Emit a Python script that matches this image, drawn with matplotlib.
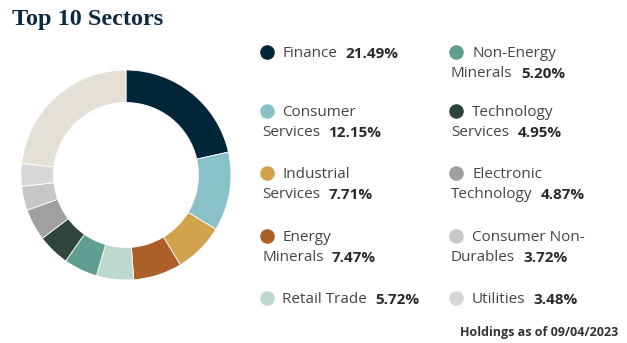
import matplotlib.pyplot as plt

sectors = ["Finance", "Consumer\nServices", "Industrial\nServices", "Energy\nMinerals",
           "Retail Trade", "Non-Energy\nMinerals", "Technology\nServices",
           "Electronic\nTechnology", "Consumer Non-\nDurables", "Utilities"]
weights = [21.49, 12.15, 7.71, 7.47, 5.72, 5.20, 4.95, 4.87, 3.72, 3.48]
colors = ["#022639", "#89c2c6", "#d0a24c", "#ad5f29", "#bdd8cc",
          "#609e92", "#2f443b", "#a0a0a0", "#c7c7c7", "#d7d7d7"]
other_color = "#e5e0d6"
as_of = "09/04/2023"

W, H = 627, 343
fig = plt.figure(figsize=(W / 100, H / 100), dpi=100)

# donut
cx, cy, r = 126, 175, 105
ax = fig.add_axes([(cx - r) / W, (H - cy - r) / H, 2 * r / W, 2 * r / H])
other = 100 - sum(weights)
ax.pie(weights + [other], colors=colors + [other_color], startangle=90,
       counterclock=False, radius=1,
       wedgeprops=dict(width=0.31, edgecolor="white", linewidth=0.6))
ax.set_aspect("equal")
ax.set_xlim(-1.0, 1.0)
ax.set_ylim(-1.0, 1.0)

# overlay in pixel coords
ov = fig.add_axes([0, 0, 1, 1])
ov.set_xlim(0, W)
ov.set_ylim(H, 0)
ov.axis("off")

ov.text(12, 25, "Top 10 Sectors", fontsize=17.5, fontweight="bold",
        family="Liberation Serif", color="#0d2b3e", va="baseline")

sans = "Open Sans"
fs = 11
label_col = "#444444"
value_col = "#2a2a2a"
col_dot = [267, 456]
col_txt = [282, 472]
col_wrap = [262, 451]
row_base = [57, 116, 178, 241, 303]

for i, (name, w, c) in enumerate(zip(sectors, weights, colors)):
    col, row = divmod(i, 5)
    y = row_base[row]
    ov.plot(col_dot[col], y - 5, "o", ms=10.5, color=c, mec="none")
    lines = name.split("\n")
    t = ov.text(col_txt[col], y, lines[0], fontsize=fs, family=sans,
                color=label_col, va="baseline")
    if len(lines) > 1:
        t = ov.text(col_wrap[col], y + 20, lines[1], fontsize=fs, family=sans,
                    color=label_col, va="baseline")
    ov.annotate(f"{w:.2f}%", xy=(1, 0), xycoords=t, xytext=(6, 0),
                textcoords="offset points", fontsize=fs, family=sans,
                fontweight="bold", color=value_col, va="bottom")

ov.text(618, 336, f"Holdings as of {as_of}", fontsize=9, family=sans,
        fontweight="bold", color="#333333", ha="right", va="baseline")

fig.savefig("out.png", dpi=100)
